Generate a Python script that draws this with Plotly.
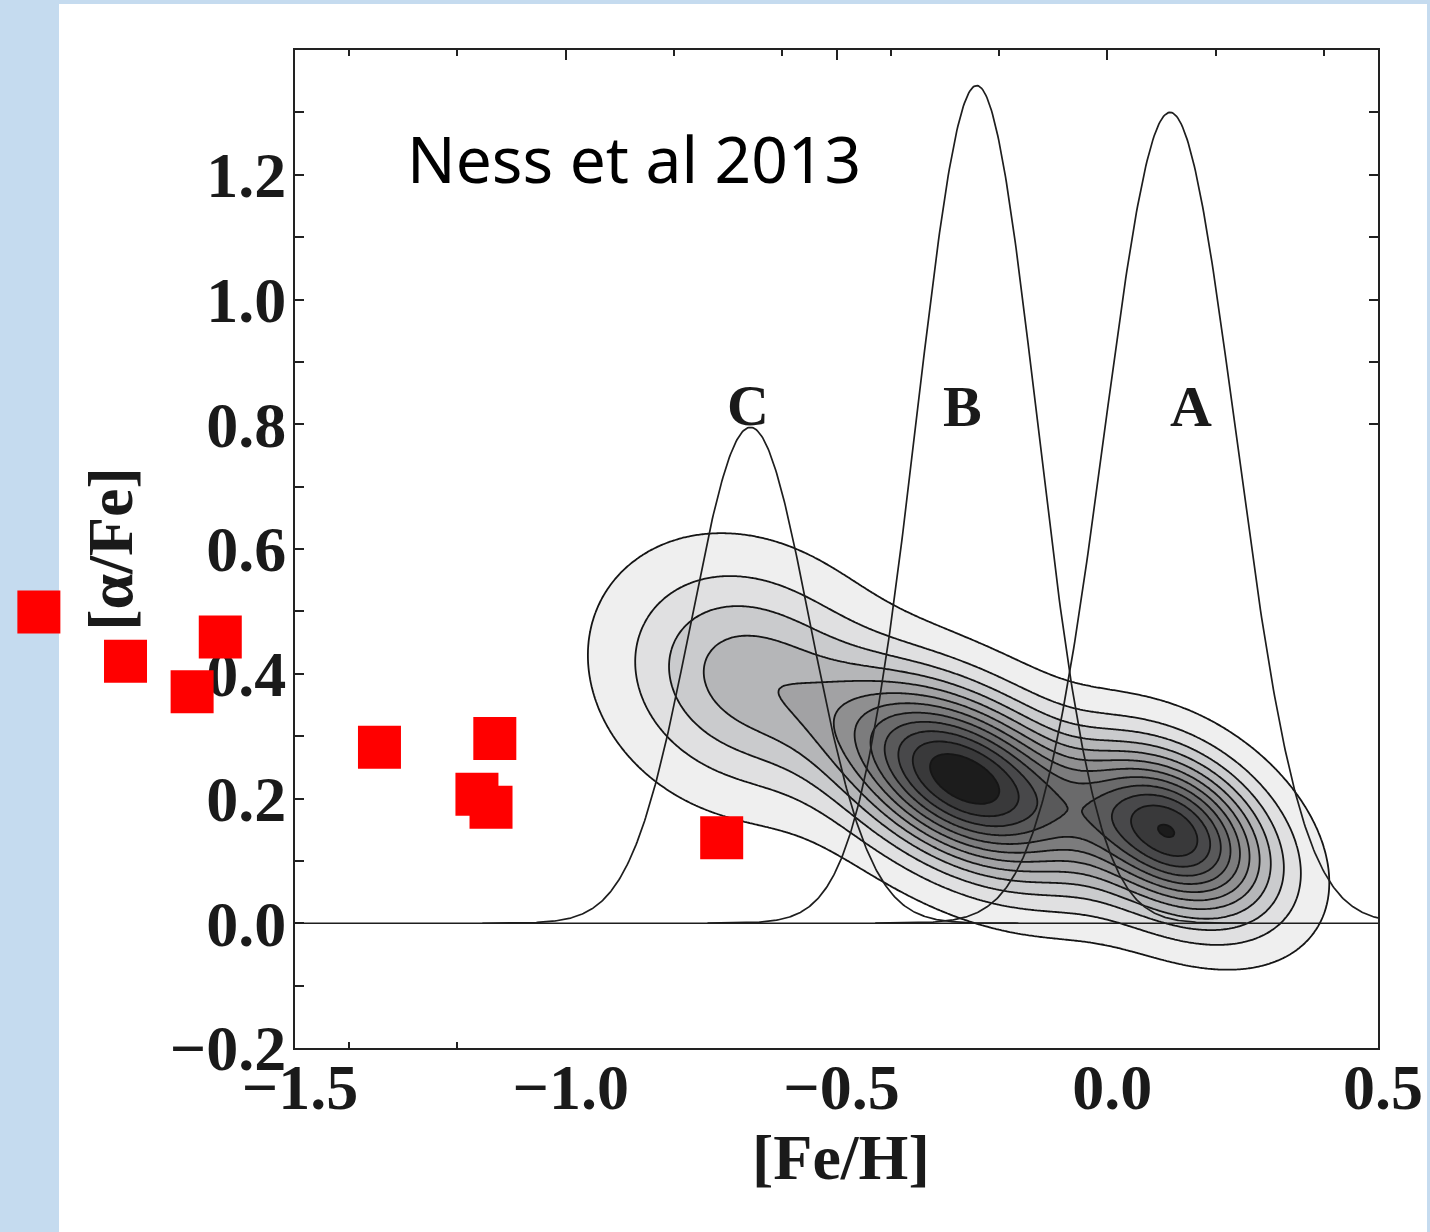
import numpy as np
import plotly.graph_objects as go

# ---------------- data ----------------
# red squares
POINT_FEH = [-1.973, -1.813, -1.638, -1.690, -1.344, -1.131, -1.164, -1.138, -0.712]
POINT_AFE = [0.499, 0.420, 0.459, 0.371, 0.282, 0.296, 0.207, 0.186, 0.137]

# Gaussian metallicity components A, B, C
PEAK_LABELS = ["A", "B", "C"]
PEAK_FEH = [0.116, -0.241, -0.659]
PEAK_SIGMA = [0.121, 0.1105, 0.110]
PEAK_HEIGHT = [1.300, 1.343, 0.795]

# density components of the contour map ([Fe/H] centre, [a/Fe] centre, widths, tilt, weight)
COMP_FEH = [-0.67, -0.265, 0.122]
COMP_AFE = [0.395, 0.231, 0.146]
COMP_SIG_FEH = [0.150, 0.155, 0.120]
COMP_SIG_AFE = [0.118, 0.092, 0.085]
COMP_TILT = [-0.12, -0.30, -0.28]
COMP_WEIGHT = [0.32, 0.99, 0.89]

CONTOUR_START, CONTOUR_END, CONTOUR_STEP = 0.05, 0.93, 0.08

X_TICKS = [-1.5, -1.0, -0.5, 0.0, 0.5]
Y_TICKS = [-0.2, 0.0, 0.2, 0.4, 0.6, 0.8, 1.0, 1.2]
X_RANGE = [-1.5, 0.5]
Y_RANGE = [-0.2, 1.4]

# ---------------- geometry (pixels) ----------------
W, H = 1430, 1232
PL, PR, PT, PB = 295, 1378, 50, 1048          # plot frame edges
px_x = (PR - PL) / (X_RANGE[1] - X_RANGE[0])
px_y = (PB - PT) / (Y_RANGE[1] - Y_RANGE[0])
X2_RANGE = [X_RANGE[0] - PL / px_x, X_RANGE[1] + (W - PR) / px_x]
Y2_RANGE = [Y_RANGE[0] - (H - PB) / px_y, Y_RANGE[1] + PT / px_y]

# ---------------- build ----------------
gx = np.linspace(-1.15, 0.55, 341)
gy = np.linspace(-0.2, 0.75, 191)
GX, GY = np.meshgrid(gx, gy)
Z = np.zeros_like(GX)
for mx, my, sx, sy, t, w in zip(COMP_FEH, COMP_AFE, COMP_SIG_FEH, COMP_SIG_AFE, COMP_TILT, COMP_WEIGHT):
    Z += w * np.exp(-0.5 * ((GX - mx) / sx) ** 2 - 0.5 * ((GY - (my + t * (GX - mx))) / sy) ** 2)

band_colors = ['#ffffff', '#efefef', '#e0e0e1', '#cacbcd', '#b5b6b8', '#a2a2a4', '#8f8f90',
               '#7c7c7d', '#6a6a6b', '#59595a', '#48484a', '#39393a', '#1c1c1c']
n = len(band_colors) - 1
colorscale = [[i / n, c] for i, c in enumerate(band_colors)]

fig = go.Figure()
fig.add_trace(go.Contour(
    x=gx, y=gy, z=Z, showscale=False, hoverinfo='skip', xaxis='x', yaxis='y',
    colorscale=colorscale,
    contours=dict(start=CONTOUR_START, end=CONTOUR_END, size=CONTOUR_STEP, coloring='fill'),
    line=dict(color='#151515', width=1.8, smoothing=0.5),
))

for lab, mu, sg, h in zip(PEAK_LABELS, PEAK_FEH, PEAK_SIGMA, PEAK_HEIGHT):
    xs = np.linspace(mu - 4.5 * sg, mu + 4.5 * sg, 500)
    ys = h * np.exp(-0.5 * ((xs - mu) / sg) ** 2)
    fig.add_trace(go.Scatter(x=xs, y=ys, mode='lines', line=dict(color='#1e1e1e', width=1.7),
                             hoverinfo='skip', name=lab, xaxis='x', yaxis='y'))

# red squares live on a full-canvas overlay axis pair with identical scale
fig.add_trace(go.Scatter(x=POINT_FEH, y=POINT_AFE, mode='markers', xaxis='x2', yaxis='y2',
                         marker=dict(symbol='square', size=43, color='#ff0000', line=dict(width=0))))

# ---------------- layout ----------------
serif_bold = dict(family='Liberation Serif', size=64, color='#1a1a1a', weight='bold')
axis_common = dict(showline=True, linecolor='#222222', linewidth=2, mirror='allticks',
                   ticks='inside', tickcolor='#222222', tickwidth=1.5, showgrid=False,
                   zeroline=False, tickfont=serif_bold, tickformat='.1f', layer='below traces',
                   automargin=False)

fig.update_layout(
    width=W, height=H, autosize=False,
    margin=dict(l=0, r=0, t=0, b=0, pad=0, autoexpand=False),
    paper_bgcolor='#c5dbef', plot_bgcolor='rgba(0,0,0,0)', showlegend=False,
    xaxis=dict(domain=[PL / W, PR / W], anchor='y', range=X_RANGE, tickvals=X_TICKS, ticklen=10,
               ticklabelstandoff=-18, ticklabelshift=5,
               minor=dict(dtick=0.2, tick0=0, ticks='inside', ticklen=6, tickwidth=1.5,
                          tickcolor='#222222', showgrid=False),
               **axis_common),
    yaxis=dict(domain=[(H - PB) / H, (H - PT) / H], anchor='x', range=Y_RANGE, tickvals=Y_TICKS,
               ticklen=9, ticklabelstandoff=-6,
               minor=dict(dtick=0.1, tick0=0, ticks='inside', ticklen=9, tickwidth=1.5,
                          tickcolor='#222222', showgrid=False),
               **axis_common),
    xaxis2=dict(domain=[0, 1], anchor='y2', range=X2_RANGE, visible=False, automargin=False),
    yaxis2=dict(domain=[0, 1], anchor='x2', range=Y2_RANGE, visible=False, automargin=False),
    shapes=[
        dict(type='rect', xref='paper', yref='paper', x0=59 / W, x1=1427 / W, y0=0, y1=(H - 4) / H,
             fillcolor='white', line=dict(width=0), layer='below'),
        dict(type='line', xref='x domain', yref='y', x0=0, x1=1, y0=0, y1=0,
             line=dict(color='#1e1e1e', width=1.6), layer='above'),
    ],
)

label_pos = {"A": (0.155, 0.829), "B": (-0.267, 0.829), "C": (-0.664, 0.830)}
annotations = []
for lab in PEAK_LABELS:
    lx, ly = label_pos[lab]
    annotations.append(dict(x=lx, y=ly, xref='x', yref='y', text=lab, showarrow=False,
                            font=dict(family='Liberation Serif', size=58, color='#1a1a1a', weight='bold'),
                            xanchor='center', yanchor='middle'))
annotations += [
    dict(x=0.504, y=-0.110, xref='x domain', yref='y domain', text='[Fe/H]', showarrow=False,
         font=serif_bold, xanchor='center', yanchor='middle'),
    dict(x=-0.171, y=0.5, xref='x domain', yref='y domain', text='[α/Fe]', showarrow=False,
         font=serif_bold, textangle=-90, xanchor='center', yanchor='middle'),
    dict(x=0.1016, y=0.891, xref='x domain', yref='y domain', text='Ness et al 2013', showarrow=False,
         font=dict(family='Noto Sans', size=64, color='black'), xanchor='left', yanchor='middle'),
]
fig.update_layout(annotations=annotations)

fig.write_html("out.html")
